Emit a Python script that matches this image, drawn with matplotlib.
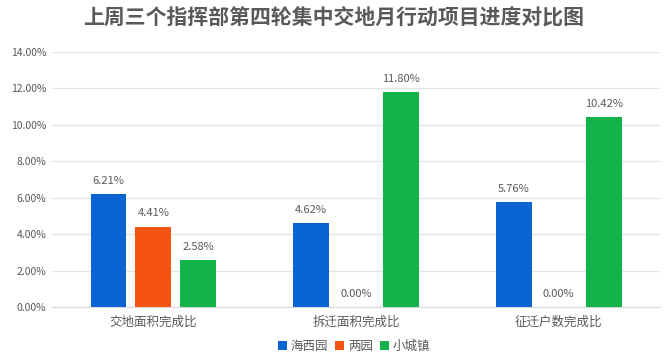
import matplotlib.pyplot as plt
import numpy as np

plt.rcParams['font.family'] = ['Noto Sans CJK SC', 'DejaVu Sans']

categories = ['交地面积完成比', '拆迁面积完成比', '征迁户数完成比']
series = ['海西园', '两园', '小城镇']
haixi = [6.21, 4.62, 5.76]
liangyuan = [4.41, 0.00, 0.00]
xiaochengzhen = [2.58, 11.80, 10.42]
colors = ['#0A64D2', '#F4540F', '#13B34B']

fig = plt.figure(figsize=(6.68, 3.59), dpi=100)
ax = fig.add_axes([0.078, 0.145, 0.91, 0.71])

x = np.arange(len(categories))
w = 0.177
off = 0.222
txt = '#595959'
for i, (vals, name) in enumerate(zip([haixi, liangyuan, xiaochengzhen], series)):
    pos = x + (i - 1) * off
    bars = ax.bar(pos, vals, width=w, color=colors[i], label=name, zorder=3)
    for p, v in zip(pos, vals):
        ax.text(p, v + 0.45, '%.2f%%' % v, ha='center', va='bottom',
                fontsize=8, color=txt)

ax.set_xlim(-0.5, 2.5)
ax.set_ylim(0, 14)
ax.set_yticks(np.arange(0, 15, 2))
ax.set_yticklabels(['%.2f%%' % t for t in np.arange(0, 15, 2)], fontsize=7.5, color=txt)
ax.set_xticks(x)
ax.set_xticklabels(categories, fontsize=9, color=txt)
ax.tick_params(length=0, pad=6)
ax.tick_params(axis='y', pad=4)
ax.grid(axis='y', color='#e3e3e3', linewidth=0.9, zorder=0)
for s in ['top', 'right', 'left']:
    ax.spines[s].set_visible(False)
ax.spines['bottom'].set_color('#d9d9d9')

fig.suptitle('上周三个指挥部第四轮集中交地月行动项目进度对比图', y=0.98,
             fontsize=15, fontweight='bold', color=txt)
fig.legend(loc='lower center', bbox_to_anchor=(0.53, -0.015), ncol=3, frameon=False,
           fontsize=9, handlelength=0.7, handleheight=0.7, handletextpad=0.3,
           columnspacing=0.6, labelcolor=txt)

fig.savefig('out.png', dpi=100)
